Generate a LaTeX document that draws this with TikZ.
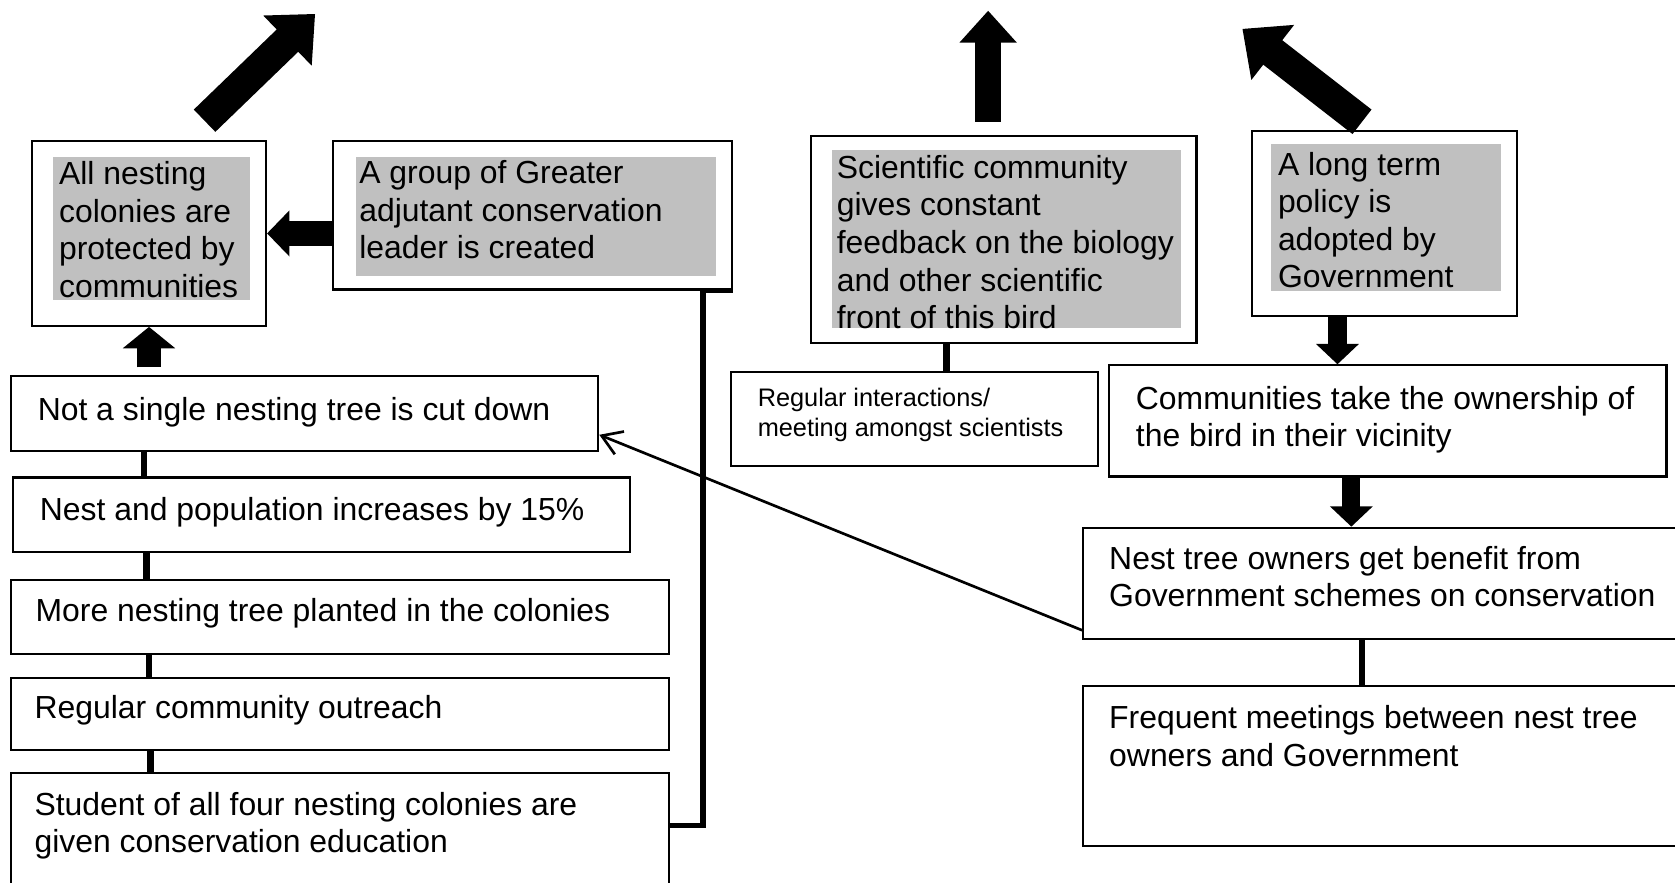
\documentclass[tikz,border=0pt]{standalone}
\usepackage{fontspec}
\setmainfont{Liberation Sans}
\usetikzlibrary{arrows.meta,fit}
\definecolor{panelgray}{HTML}{C0C0C0}

\tikzset{
  box/.style={draw=black, line width=0.04cm, inner sep=0pt},
  grayfill/.style={fill=panelgray, inner sep=0pt},
  txt/.style={anchor=north west, inner sep=0pt, align=left, font=\fontsize{17}{20}\selectfont},
  smalltxt/.style={txt, font=\fontsize{13.5}{16}\selectfont},
  link/.style={line width=0.12cm},
  bracket/.style={line width=0.1cm},
  pointer/.style={line width=0.05cm, -{Straight Barb[length=0.36cm,width=0.46cm]}},
  fatarrow/.style={line width=0.58cm, -{Triangle[width=1.26cm,length=0.72cm]}},
  midarrow/.style={line width=0.48cm, -{Triangle[width=1.04cm,length=0.6cm]}},
  sidearrow/.style={line width=0.46cm, -{Triangle[width=0.84cm,length=0.42cm]}},
  uparrow/.style={line width=0.44cm, -{Triangle[width=0.96cm,length=0.4cm]}},
  downarrow/.style={line width=0.34cm, -{Triangle[width=0.78cm,length=0.38cm]}}
}

\begin{document}
\begin{tikzpicture}[x=0.02cm, y=-0.02cm]
\useasboundingbox (0,0) rectangle (1568,826);

% left column
\node (allbox) [box, fit={(30,132) (249,305)}] {};
\node (allgray) [grayfill, fit={(50,147) (234,281)}] {};
\node (alltext) at (55,151) [txt] {All nesting\\colonies are\\protected by\\communities};
\node (ledbox) [box, fit={(312,132) (685,271)}] {};
\node (ledgray) [grayfill, fit={(333,147) (670,258)}] {};
\node (ledtext) at (336,150) [txt] {A group of Greater\\adjutant conservation\\leader is created};

\node (notcut) [box, fit={(10,352) (560,422)}] {};
\node (notcuttext) at (35,372) [txt] {Not a single nesting tree is cut down};
\node (popbox) [box, fit={(12,447) (590,517)}] {};
\node (poptext) at (37,465) [txt] {Nest and population increases by 15\%};
\node (plantbox) [box, fit={(10,543) (626,612)}] {};
\node (planttext) at (33,560) [txt] {More nesting tree planted in the colonies};
\node (outbox) [box, fit={(10,635) (626,702)}] {};
\node (outtext) at (32,651) [txt] {Regular community outreach};
\node (edubox) [box, fit={(10,724) (626,850)}] {};
\node (edutext) at (32,741) [txt] {Student of all four nesting colonies are\\given conservation education};

% middle
\node (scibox) [box, fit={(759,127) (1120,321)}] {};
\node (scigray) [grayfill, fit={(779,140) (1106,307)}] {};
\node (scitext) at (783,145) [txt] {Scientific community\\gives constant\\feedback on the biology\\and other scientific\\front of this bird};
\node (meetbox) [box, fit={(684,348) (1028,436)}] {};
\node (meettext) at (709,363) [smalltxt] {Regular interactions/\\meeting amongst scientists};

% right
\node (polbox) [box, fit={(1172,123) (1420,296)}] {};
\node (polgray) [grayfill, fit={(1190,135) (1405,272)}] {};
\node (poltext) at (1196,142) [txt] {A long term\\policy is\\adopted by\\Government};
\node (ownbox) [box, fit={(1038,342) (1560,446)}] {};
\node (owntext) at (1063,361) [txt] {Communities take the ownership of\\the bird in their vicinity};
\node (benbox) [box, fit={(1014,494) (1600,598)}] {};
\node (bentext) at (1038,511) [txt] {Nest tree owners get benefit from\\Government schemes on conservation};
\node (govbox) [box, fit={(1014,642) (1600,792)}] {};
\node (govtext) at (1038,660) [txt] {Frequent meetings between nest tree\\owners and Government};

\coordinate (allgoal) at (295,13);
\coordinate (scigoal) at (925,10);
\coordinate (polgoal) at (1163,27);

% big arrows
\draw [fatarrow] ([shift={(52,-18)}]allbox.north) -- (allgoal);
\draw [midarrow] ([shift={(-14.5,-12)}]scibox.north) -- (scigoal);
\draw [fatarrow] ([shift={(-21,-8)}]polbox.north) -- (polgoal);
\draw [sidearrow] (ledbox.west |- allbox.east) -- (allbox.east);
\draw [uparrow] ([yshift=0.14cm]allbox.south |- notcut.north) -- (allbox.south);
\draw [downarrow] ([xshift=-0.88cm]polbox.south) -- ([xshift=-0.88cm]polbox.south |- ownbox.north);
\draw [downarrow] ([xshift=-0.68cm]ownbox.south) -- ([xshift=-0.68cm]ownbox.south |- benbox.north);

% links
\draw [link] ([xshift=-0.09cm]allbox.south |- notcut.south) -- ([xshift=-0.09cm]allbox.south |- popbox.north);
\draw [link] ([xshift=-0.05cm]allbox.south |- popbox.south) -- ([xshift=-0.05cm]allbox.south |- plantbox.north);
\draw [link] (allbox.south |- plantbox.south) -- (allbox.south |- outbox.north);
\draw [link] ([xshift=0.03cm]allbox.south |- outbox.south) -- ([xshift=0.03cm]allbox.south |- edubox.north);
\draw [link] ([xshift=-1.07cm]scibox.south) -- ([xshift=-1.07cm]scibox.south |- meetbox.north);
\draw [link] ([xshift=-0.64cm]benbox.south) -- ([xshift=-0.64cm]benbox.south |- govbox.north);
\draw [bracket] ([yshift=0.28cm]edubox.east) -- ++(31,0) |- (ledbox.south east);
\draw [pointer] ([yshift=-0.88cm]benbox.west) -- ([yshift=-0.4cm]notcut.east);
\end{tikzpicture}
\end{document}
